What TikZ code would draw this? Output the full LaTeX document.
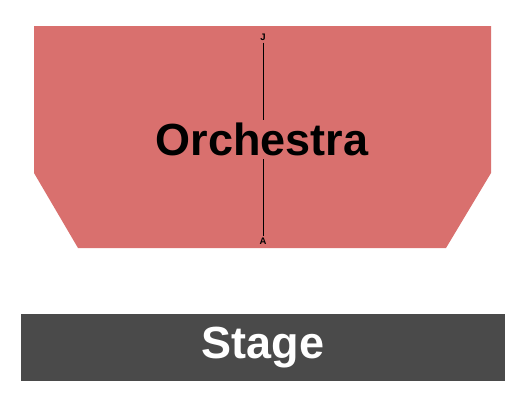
\documentclass[tikz,border=0pt]{standalone}
\usepackage{fontspec}
\setmainfont{Liberation Sans}
\usetikzlibrary{positioning}

\definecolor{sectionred}{HTML}{D9706E}
\definecolor{stagegray}{HTML}{4A4A4A}

\begin{document}
\begin{tikzpicture}[
    x=1pt, y=-1pt,
    section/.style={fill=sectionred, draw=none},
    rowlabel/.style={font=\bfseries\fontsize{9.5}{9.5}\selectfont, inner sep=2pt},
    bigtext/.style={font=\bfseries\fontsize{45}{45}\selectfont, inner sep=3pt}
]

% Page frame
\useasboundingbox (0,0) rectangle (525,408);

% Orchestra section
\fill[section] (34,26) -- (491,26) -- (491,173) -- (446,248) -- (78,248) -- (34,173) -- cycle;

% Row labels and the row line
\node[rowlabel] (rowJ) at (263,37) {J};
\node[rowlabel] (rowA) at (263,241) {A};
\draw[line width=1pt] (rowJ) -- (rowA);

% Section name (covers the row line)
\node[bigtext, fill=sectionred] (orch) at (262,139.5) {Orchestra};

% Stage
\node[fill=stagegray, minimum width=484pt, minimum height=67pt, inner sep=0pt] (stage) at (263,347.5) {};
\node[bigtext, text=white] (stagetext) at (stage.center) {Stage};

\end{tikzpicture}
\end{document}
